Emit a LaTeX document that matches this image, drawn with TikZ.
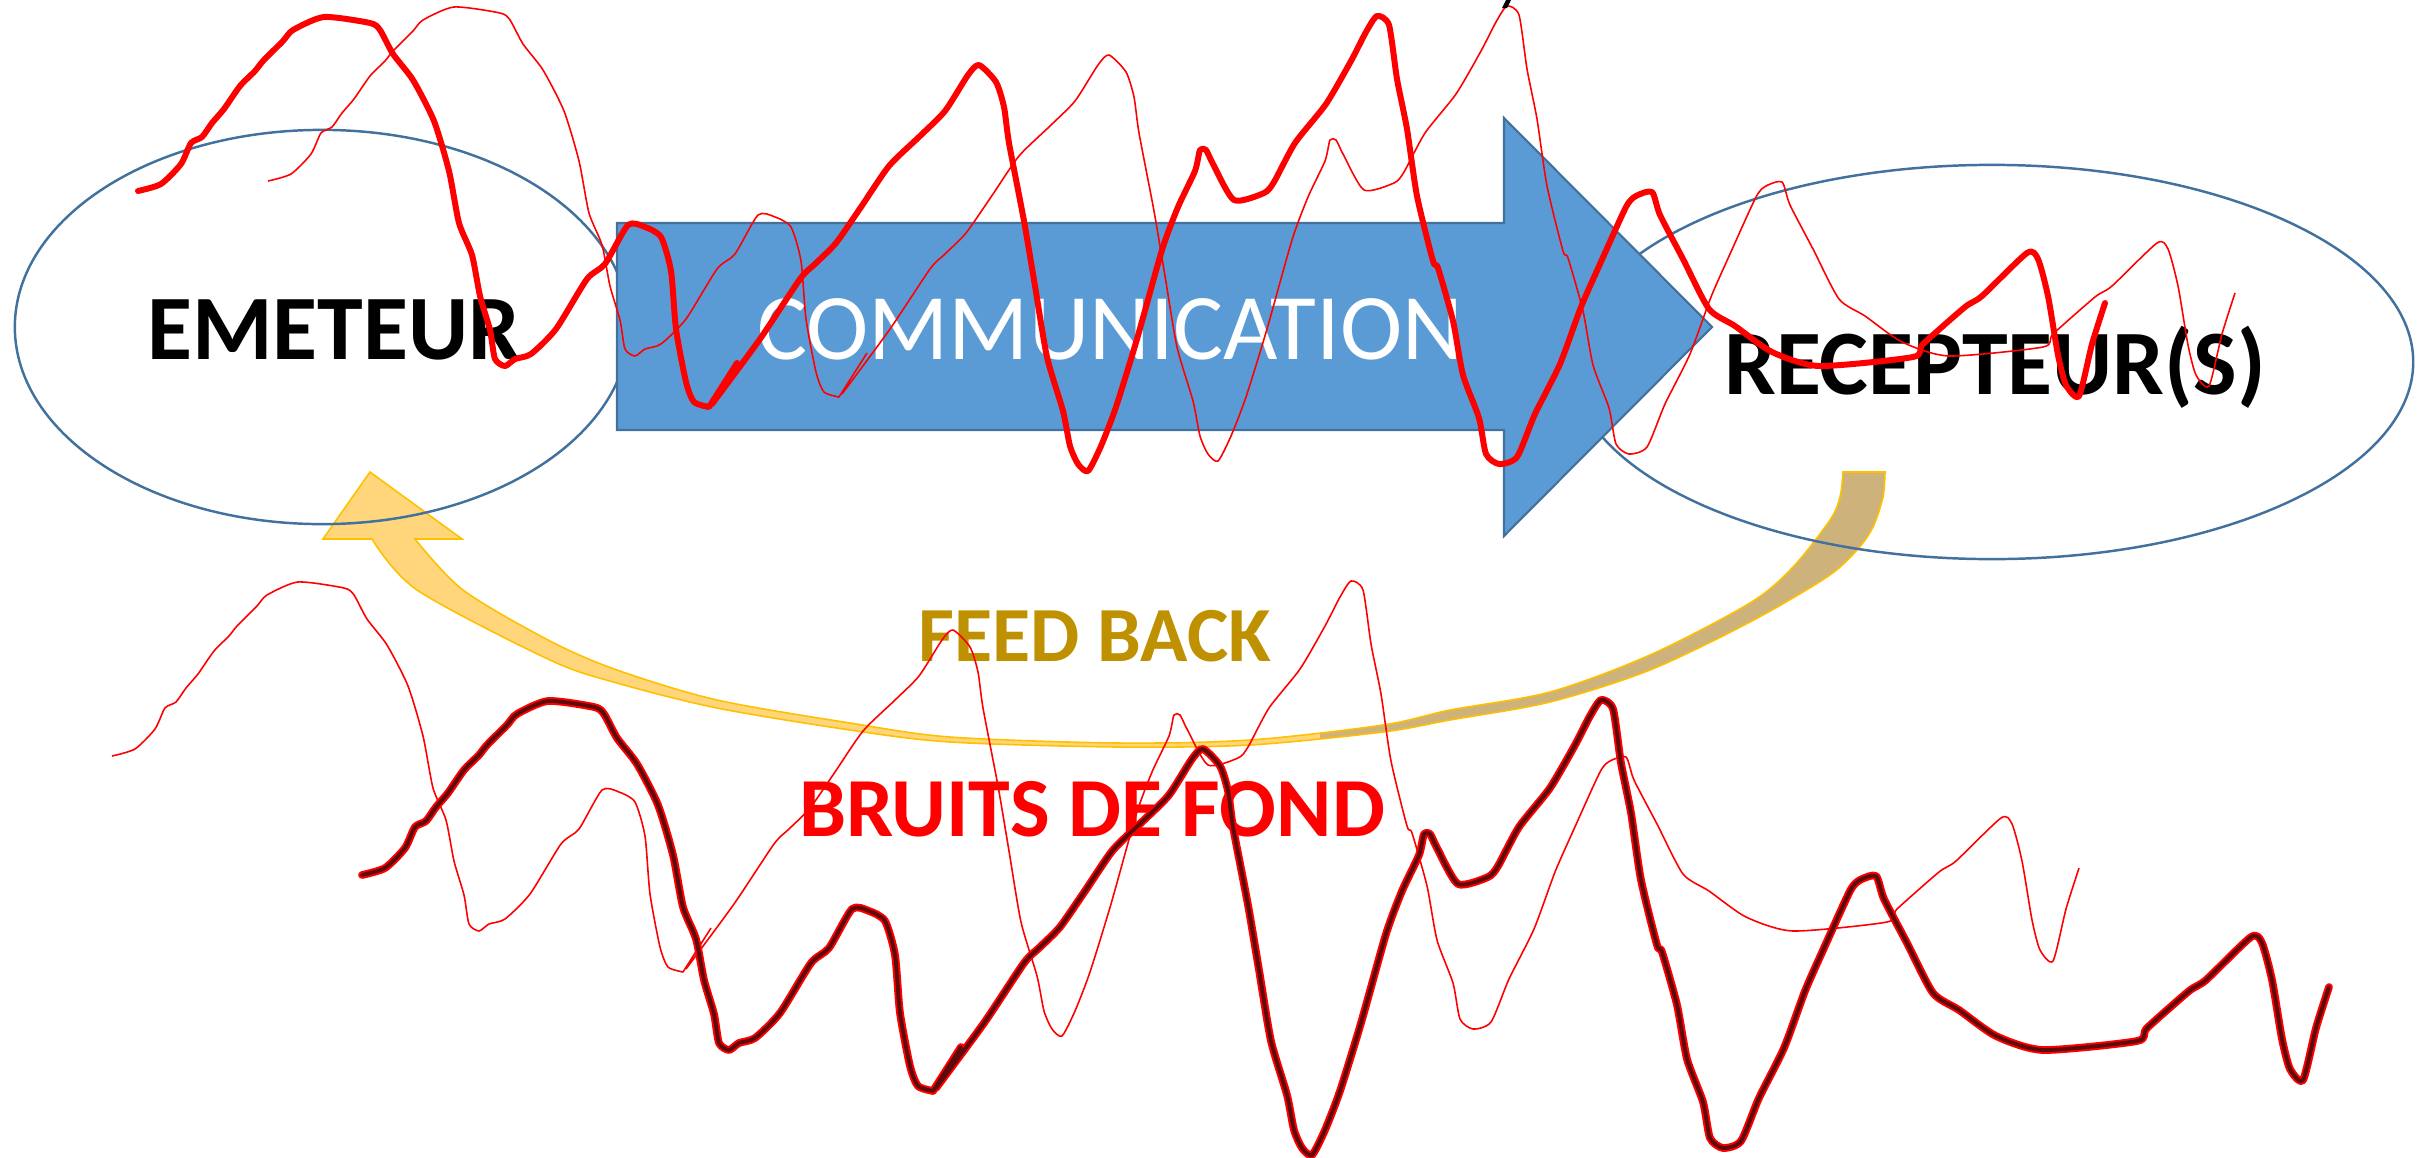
\documentclass[tikz,border=0pt]{standalone}
\usepackage{fontspec}
\setmainfont{Carlito}
\usetikzlibrary{shapes.geometric}
\definecolor{shapeblue}{HTML}{5B9BD5}
\definecolor{lineblue}{HTML}{41719C}
\definecolor{fbyellow}{HTML}{FFD67C}
\definecolor{fbgold}{HTML}{FFC000}
\definecolor{fbtan}{HTML}{CEB27B}
\definecolor{fbtext}{HTML}{BF9000}
\definecolor{noisedark}{HTML}{5E0A0A}
\tikzset{
    party-ellipse/.style = {draw=lineblue, line width=0.7pt, ellipse, inner sep=0pt},
    party-label/.style = {font=\fontsize{26.2}{30}\selectfont\bfseries, anchor=base, inner sep=0pt},
    flow-label/.style = {font=\fontsize{26.7}{30}\selectfont, text=white, anchor=base, inner sep=0pt},
    arrow-body/.style = {fill=shapeblue, draw=lineblue, line width=0.6pt, line join=miter},
    noise-thick/.style = {draw=red, line width=1.7pt, line join=round, line cap=round},
    noise-thin/.style = {draw=red, line width=0.45pt, line join=round},
}
% one hand-drawn trace, reused four times
\newcommand{\noisetrace}{%
  plot[smooth, tension=.4] coordinates {(138,191) (161,184) (181,164) (191,143) (202,137) (212,123) (224,109) (240,86) (255,71) (263,61) (283,41) (293,30) (324,17) (370,23) (380,30) (393,54) (413,80) (434,121) (449,171) (459,223) (472,255) (480,296) (490,330) (495,359) (505,366) (515,359) (531,354) (556,329) (587,279) (605,264) (628,225) (645,227) (661,237) (671,271) (676,329) (686,382) (694,402) (709,407)} -- (737,363)
  plot[smooth, tension=.4] coordinates {(712,404) (760,339) (800,279) (815,264) (836,243) (861,207) (889,166) (920,136) (945,111) (968,75) (979,65) (996,82) (1004,107) (1009,143) (1024,221) (1035,286) (1047,357) (1063,411) (1070,446) (1078,464) (1088,471) (1101,446) (1116,407) (1137,339) (1162,250) (1178,207) (1195,171) (1200,150) (1206,150) (1213,164) (1234,200) (1264,193) (1274,182) (1295,143) (1326,104) (1351,61) (1366,32) (1377,16) (1389,25) (1397,79) (1407,129) (1417,196) (1433,261) (1438,268) (1453,321) (1463,375) (1479,418) (1486,454) (1499,464) (1517,457) (1535,414) (1560,364) (1581,307) (1600,264) (1626,207) (1636,196) (1652,192) (1660,215) (1683,259) (1709,309) (1735,326) (1772,352) (1819,366) (1913,357) (1923,344) (1965,307) (1982,296) (2027,253) (2038,259) (2048,296) (2058,355) (2066,385) (2079,396) (2092,344) (2105,303)}}
% outline of the curved feed back arrow
\newcommand{\feedbackband}{%
  (370,472) -- (323,539) -- (372,539)
  -- plot[smooth, tension=.5] coordinates {(372,539) (417,590) (550,660) (617,683) (717,708) (850,730) (950,742) (1117,747) (1250,745) (1383,732) (1450,720) (1550,702) (1650,670) (1750,622) (1827,577) (1857,550) (1873,527) (1883,497) (1885,472)}
  -- (1843,472)
  -- plot[smooth, tension=.5] coordinates {(1843,472) (1840,497) (1830,520) (1793,567) (1750,603) (1650,655) (1550,692) (1450,710) (1383,725) (1250,740) (1117,743) (950,737) (850,723) (717,700) (617,670) (550,641) (463,590) (415,539)}
  -- (462,539) -- cycle}

\begin{document}
\begin{tikzpicture}[x=0.01cm, y=-0.01cm]
\useasboundingbox (0,0) rectangle (2417,1157);

% feed back
\fill[fbyellow] \feedbackband;
\begin{scope}
    \clip (1320,0) rectangle (2417,1157);
    \fill[fbtan] \feedbackband;
\end{scope}
\draw[fbgold, line width=0.45pt] \feedbackband;

% both parties
\node [party-ellipse, minimum width=6.14cm, minimum height=3.94cm] (emetteur) at (322,327) {};
\node [party-ellipse, minimum width=8.42cm, minimum height=3.94cm] (recepteur) at (1992,362) {};

% communication arrow
\draw[arrow-body] (617,223) -- (1504,223) -- (1504,118) -- (1712,327) -- (1504,536) -- (1504,430) -- (617,430) -- cycle;

\node [party-label] (emetteur-label) at (334,359) {EMETEUR};
\node [party-label] (recepteur-label) at (1995,394) {RECEPTEUR(S)};
\node [flow-label] (communication-label) at (1110,359) {COMMUNICATION};
\node [font=\fontsize{22.2}{26}\selectfont\bfseries, text=fbtext, anchor=base, inner sep=0pt] (feedback-label) at (1095,661) {FEED BACK};
\node [font=\fontsize{23.9}{28}\selectfont\bfseries, text=red, anchor=base, inner sep=0pt] (bruits-label) at (1092,836) {BRUITS DE FOND};

% noise
\draw[noise-thick] \noisetrace;
\draw[noise-thin, shift={(130,-10)}] \noisetrace;
\draw[noise-thin, shift={(-26,565)}] \noisetrace;
\draw[noise-thick, line width=2.2pt, shift={(224,684)}] \noisetrace;
\draw[noise-thick, draw=noisedark, line width=1.1pt, shift={(224,684)}] \noisetrace;

\fill (1502,8) -- (1506,0) -- (1511,0) -- (1507,8) -- cycle;
\end{tikzpicture}
\end{document}
